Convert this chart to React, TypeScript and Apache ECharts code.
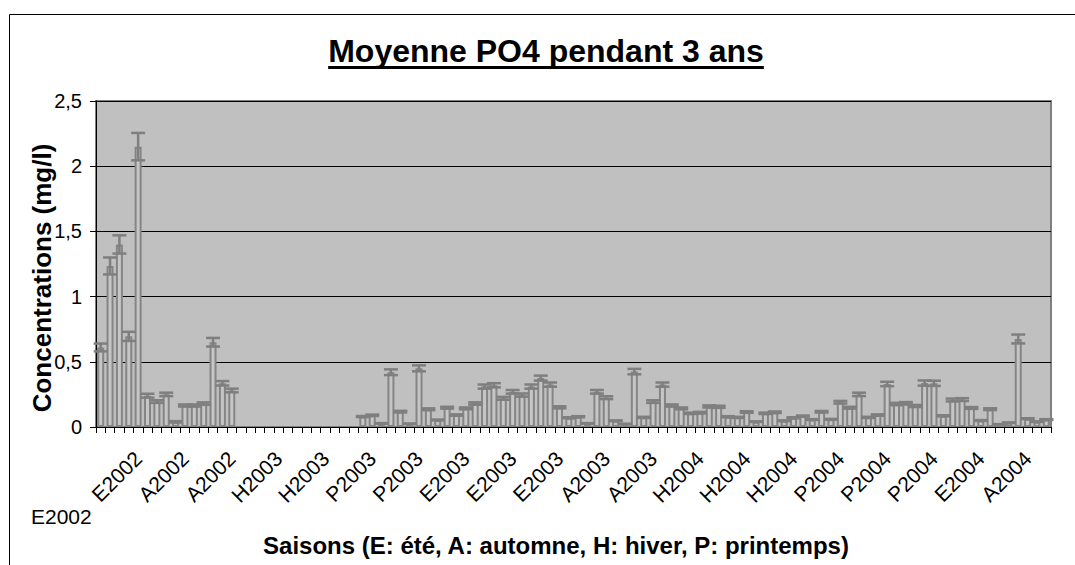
import React, { useEffect, useRef } from "react";
import * as echarts from "echarts";

const seasonNames = ["E2002", "A2002", "H2003", "P2003", "E2003", "A2003", "H2004", "P2004", "E2004", "A2004"];
const seasonCounts = [8, 9, 11, 10, 15, 10, 13, 16, 5, 5];

const values: (number | null)[] = [
  0.61, 1.235, 1.40, 0.695, 2.15, 0.24, 0.195, 0.25, 0.04, 0.165,
  0.165, 0.18, 0.65, 0.335, 0.28, null, null, null, null, null,
  null, null, null, null, null, null, null, null, 0.08, 0.09,
  0.028, 0.42, 0.118, 0.025, 0.45, 0.136, 0.054, 0.148, 0.092, 0.143,
  0.18, 0.31, 0.32, 0.22, 0.27, 0.245, 0.31, 0.375, 0.325, 0.151,
  0.071, 0.079, 0.028, 0.27, 0.225, 0.048, 0.023, 0.425, 0.074, 0.195,
  0.325, 0.165, 0.143, 0.105, 0.11, 0.158, 0.155, 0.079, 0.074, 0.115,
  0.041, 0.105, 0.113, 0.048, 0.071, 0.084, 0.057, 0.117, 0.059, 0.19,
  0.148, 0.25, 0.074, 0.092, 0.33, 0.176, 0.182, 0.161, 0.337, 0.335,
  0.086, 0.207, 0.21, 0.146, 0.05, 0.137, 0.02, 0.033, 0.675, 0.064,
  0.041, 0.057,
];

const errors: (number | null)[] = [
  0.03, 0.065, 0.07, 0.035, 0.105, 0.015, 0.01, 0.013, 0.005, 0.008,
  0.008, 0.009, 0.033, 0.017, 0.014, null, null, null, null, null,
  null, null, null, null, null, null, null, null, 0.004, 0.005,
  0.002, 0.022, 0.006, 0.002, 0.023, 0.007, 0.003, 0.007, 0.005, 0.007,
  0.009, 0.016, 0.016, 0.011, 0.014, 0.012, 0.016, 0.019, 0.016, 0.008,
  0.004, 0.004, 0.002, 0.014, 0.011, 0.003, 0.002, 0.021, 0.004, 0.01,
  0.016, 0.008, 0.007, 0.005, 0.006, 0.008, 0.008, 0.004, 0.004, 0.006,
  0.002, 0.005, 0.006, 0.003, 0.004, 0.004, 0.003, 0.006, 0.003, 0.01,
  0.007, 0.013, 0.004, 0.005, 0.017, 0.009, 0.009, 0.008, 0.02, 0.02,
  0.004, 0.011, 0.011, 0.007, 0.003, 0.007, 0.002, 0.002, 0.034, 0.003,
  0.002, 0.003,
];

const yTicks = [0, 0.5, 1, 1.5, 2, 2.5];

const titleText = "Moyenne PO4 pendant 3 ans";
const xTitle = "Saisons (E: été, A: automne, H: hiver, P: printemps)";
const yTitle = "Concentrations (mg/l)";
const strayLabel = "E2002";

const FONT = "'Liberation Sans', Arial, sans-serif";

function buildCategories(): string[] {
  const out: string[] = [];
  seasonNames.forEach((n, k) => {
    for (let j = 0; j < seasonCounts[k]; j++) out.push(n);
  });
  return out;
}

function measure(text: string, font: string): number {
  const c = document.createElement("canvas").getContext("2d");
  if (!c) return text.length * 15;
  c.font = font;
  return c.measureText(text).width;
}

export default function App() {
  const ref = useRef<HTMLDivElement>(null);
  useEffect(() => {
    if (!ref.current) return;
    const chart = echarts.init(ref.current, undefined, { renderer: "svg" });
    const categories = buildCategories();
    const errData: number[][] = [];
    values.forEach((v, i) => {
      if (v != null && errors[i] != null) errData.push([i, v, errors[i] as number]);
    });
    const titleSize = 32;
    const titleX = 546;
    const titleY = 51;
    const tw = measure(titleText, `bold ${titleSize}px 'Liberation Sans'`);

    chart.setOption({
      animation: false,
      backgroundColor: "#ffffff",
      grid: {
        left: 96,
        right: 24,
        top: 101,
        bottom: 138,
        show: true,
        backgroundColor: "#c0c0c0",
        borderColor: "#808080",
        borderWidth: 2,
        containLabel: false,
        outerBoundsMode: "none",
      },
      xAxis: {
        type: "category",
        data: categories,
        boundaryGap: true,
        axisLine: { show: true, lineStyle: { color: "#000", width: 1 } },
        axisTick: { show: true, interval: 0, length: 6, inside: false, lineStyle: { color: "#000", width: 1 } },
        axisLabel: {
          interval: (i: number) => (i - 4) % 5 === 0 && i >= 4,
          rotate: 45,
          fontSize: 21,
          fontFamily: FONT,
          color: "#000",
          margin: 28,
        },
        splitLine: { show: false },
      },
      yAxis: {
        type: "value",
        min: 0,
        max: 2.5,
        interval: 0.5,
        axisLine: { show: true, lineStyle: { color: "#000", width: 1 } },
        axisTick: { show: true, length: 6, inside: false, lineStyle: { color: "#000" } },
        axisLabel: {
          fontSize: 20,
          fontFamily: FONT,
          color: "#000",
          margin: 14,
          formatter: (v: number) => (yTicks.includes(v) ? String(v).replace(".", ",") : ""),
        },
        splitLine: { show: true, lineStyle: { color: "#000", width: 1 } },
      },
      series: [
        {
          type: "bar",
          data: values.map((v) => (v == null ? "-" : v)),
          barWidth: 7,
          itemStyle: { color: "#c6c6c6", borderColor: "#858585", borderWidth: 2 },
          silent: true,
        },
        {
          type: "custom",
          data: errData,
          encode: { x: 0, y: 1 },
          silent: true,
          z: 5,
          renderItem: (params: any, api: any) => {
            const idx = api.value(0);
            const v = api.value(1);
            const e = api.value(2);
            const hi = api.coord([idx, v + e]);
            const lo = api.coord([idx, v - e]);
            const x = hi[0];
            const hw = 7;
            const st = { stroke: "#7f7f7f", lineWidth: 2.5 };
            return {
              type: "group",
              children: [
                { type: "line", shape: { x1: x, y1: hi[1], x2: x, y2: lo[1] }, style: st },
                { type: "line", shape: { x1: x - hw, y1: hi[1], x2: x + hw, y2: hi[1] }, style: st },
                { type: "line", shape: { x1: x - hw, y1: lo[1], x2: x + hw, y2: lo[1] }, style: st },
              ],
            };
          },
        },
      ],
      graphic: [
        {
          type: "rect",
          shape: { x: 9.5, y: 14.5, width: 1200, height: 700 },
          style: { fill: "none", stroke: "#000", lineWidth: 1 },
          silent: true,
        },
        {
          type: "text",
          x: titleX,
          y: titleY,
          style: {
            text: titleText,
            font: `bold ${titleSize}px ${FONT}`,
            fill: "#000",
            textAlign: "center",
            textVerticalAlign: "middle",
          },
        },
        {
          type: "line",
          shape: { x1: titleX - tw / 2, y1: 67.5, x2: titleX + tw / 2, y2: 67.5 },
          style: { stroke: "#000", lineWidth: 3 },
        },
        {
          type: "text",
          x: 556,
          y: 545,
          style: {
            text: xTitle,
            font: `bold 24px ${FONT}`,
            fill: "#000",
            textAlign: "center",
            textVerticalAlign: "middle",
          },
        },
        {
          type: "text",
          x: 42,
          y: 278,
          rotation: Math.PI / 2,
          style: {
            text: yTitle,
            font: `bold 26px ${FONT}`,
            fill: "#000",
            textAlign: "center",
            textVerticalAlign: "middle",
          },
        },
        {
          type: "text",
          x: 31,
          y: 516,
          style: {
            text: strayLabel,
            font: `21px ${FONT}`,
            fill: "#000",
            textAlign: "left",
            textVerticalAlign: "middle",
          },
        },
      ],
    });
    return () => chart.dispose();
  }, []);
  return (
    <div
      ref={ref}
      style={{ position: "fixed", left: 0, top: 0, width: 1075, height: 565 }}
    />
  );
}
